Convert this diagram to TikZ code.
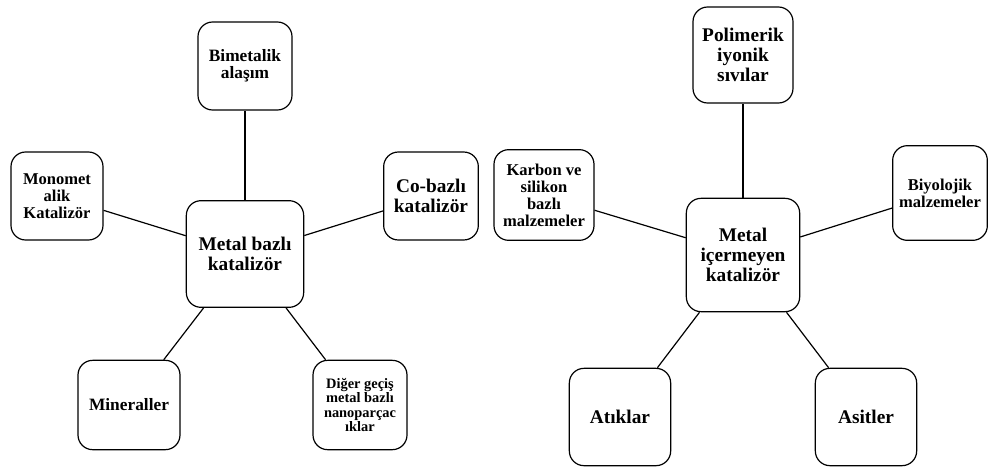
\documentclass[tikz,border=0pt]{standalone}
\usepackage{fontspec}
\setmainfont{Liberation Serif}
\usepackage{tikz}

\tikzset{
  kutu/.style={draw, rounded corners=11pt, line width=0.9pt, align=center, inner sep=1pt},
  yaziL/.style={font=\fontsize{14.5}{15}\selectfont\bfseries},
  yaziM/.style={font=\fontsize{13}{13}\selectfont\bfseries},
  yaziS/.style={font=\fontsize{12.4}{12.8}\selectfont\bfseries},
  yaziXS/.style={font=\fontsize{10.8}{10.8}\selectfont\bfseries},
  bag/.style={line width=0.9pt}
}

\begin{document}
\begin{tikzpicture}[x=0.75pt,y=-0.75pt]
\useasboundingbox (0,0) rectangle (989,468);
\node[kutu, yaziL, minimum width=88pt, minimum height=80pt] (metal) at (245,254) {Metal bazlı\\katalizör};
\node[kutu, yaziM, minimum width=70.5pt, minimum height=66pt] (bimet) at (245,66) {Bimetalik\\alaşım};
\node[kutu, yaziS, minimum width=69pt, minimum height=66pt] (monomet) at (57,196) {Monomet\\alik\\Katalizör};
\node[kutu, yaziL, minimum width=71pt, minimum height=66pt] (cobazli) at (431,196) {Co-bazlı\\katalizör};
\node[kutu, yaziM, minimum width=76.5pt, minimum height=67pt] (mineral) at (129,405) {Mineraller};
\node[kutu, yaziXS, minimum width=70.5pt, minimum height=67pt] (diger) at (360,405) {Diğer geçiş\\metal bazlı\\nanoparçac\\ıklar};
 \draw[bag] (metal) -- (bimet);
 \draw[bag] (metal) -- (monomet);
 \draw[bag] (metal) -- (cobazli);
 \draw[bag] (metal) -- (mineral);
 \draw[bag] (metal) -- (diger);
\node[kutu, yaziL, minimum width=85pt, minimum height=85pt] (metalsiz) at (743,255) {Metal\\içermeyen\\katalizör};
\node[kutu, yaziL, minimum width=75pt, minimum height=72pt] (polimer) at (743,55) {Polimerik\\iyonik\\sıvılar};
\node[kutu, yaziS, minimum width=75pt, minimum height=68pt] (karbon) at (544,195) {Karbon ve\\silikon\\bazlı\\malzemeler};
\node[kutu, yaziS, minimum width=71pt, minimum height=71pt] (biyo) at (940,193) {Biyolojik\\malzemeler};
\node[kutu, yaziL, minimum width=76pt, minimum height=73pt] (atik) at (620,417) {Atıklar};
\node[kutu, yaziL, minimum width=76pt, minimum height=73pt] (asit) at (866,417) {Asitler};
 \draw[bag] (metalsiz) -- (polimer);
 \draw[bag] (metalsiz) -- (karbon);
 \draw[bag] (metalsiz) -- (biyo);
 \draw[bag] (metalsiz) -- (atik);
 \draw[bag] (metalsiz) -- (asit);
\end{tikzpicture}
\end{document}
